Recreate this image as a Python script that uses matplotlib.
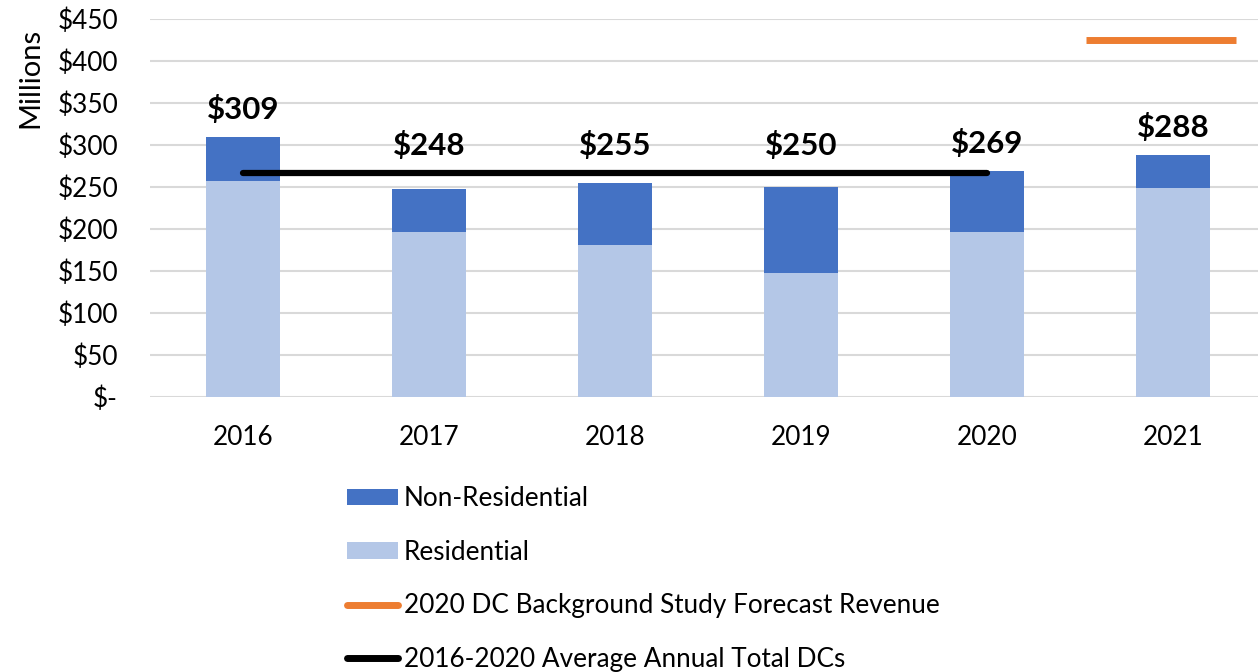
import matplotlib.pyplot as plt
import numpy as np
from matplotlib.patches import Patch
from matplotlib.lines import Line2D

plt.rcParams['font.family'] = ['Lato', 'DejaVu Sans']

# data (millions)
years = ['2016', '2017', '2018', '2019', '2020', '2021']
residential = [257, 196, 181, 148, 196, 249]
totals = [309, 248, 255, 250, 269, 288]
non_residential = [t - r for t, r in zip(totals, residential)]
forecast_2021 = 425
avg_years = years[:5]
avg_total = np.mean(totals[:5])

dark_blue = '#4472C4'
light_blue = '#B4C7E7'
orange = '#ED7D31'

fig = plt.figure(figsize=(12.58, 6.72), dpi=100)
ax = fig.add_axes([150 / 1258, 1 - 397 / 672, 1108 / 1258, 378 / 672])

x = np.arange(len(years))
w = 0.40
ax.bar(x, residential, w, color=light_blue, zorder=2)
ax.bar(x, non_residential, w, bottom=residential, color=dark_blue, zorder=2)

# average line from first to last averaged year
ax.plot([0, len(avg_years) - 1], [avg_total, avg_total], color='black',
        lw=4.5, solid_capstyle='round', zorder=4)

# forecast marker over 2021
ax.hlines(forecast_2021, x[-1] - 0.47, x[-1] + 0.34, color=orange, lw=5,
          zorder=4)

# total labels, lifted above the average line where it would clash
for xi, t in zip(x, totals):
    y = max(t, avg_total) + 33
    ax.text(xi, y, f'${t}', ha='center', va='center', fontsize=22.5,
            fontweight='bold', zorder=5)

ax.set_xlim(-0.5, 5.457)
ax.set_ylim(0, 450)
ax.set_yticks(range(0, 451, 50))
ax.set_yticklabels(['$-'] + [f'${v}' for v in range(50, 451, 50)])
ax.set_xticks(x)
ax.set_xticklabels(years)
ax.tick_params(axis='y', length=0, pad=23, labelsize=18.8)
ax.tick_params(axis='x', length=0, pad=20, labelsize=18.8)
ax.grid(axis='y', color='#d9d9d9', lw=1.5, zorder=0)
for s in ax.spines.values():
    s.set_visible(False)

fig.text(30 / 1258, 1 - 78 / 672, 'Millions', rotation=90, ha='center',
         va='center', fontsize=21)

handles = [
    Patch(facecolor=dark_blue),
    Patch(facecolor=light_blue),
    Line2D([], [], color=orange, lw=5, solid_capstyle='round'),
    Line2D([], [], color='black', lw=5, solid_capstyle='round'),
]
labels = ['Non-Residential', 'Residential',
          '2020 DC Background Study Forecast Revenue',
          '2016-2020 Average Annual Total DCs']
fig.legend(handles, labels, loc='upper left',
           bbox_to_anchor=(334 / 1258, 1 - 473 / 672), frameon=False,
           fontsize=18.8, handlelength=1.97, handleheight=0.6,
           handletextpad=0.2, labelspacing=1.1, borderpad=0)

fig.savefig('out.png', dpi=100)
